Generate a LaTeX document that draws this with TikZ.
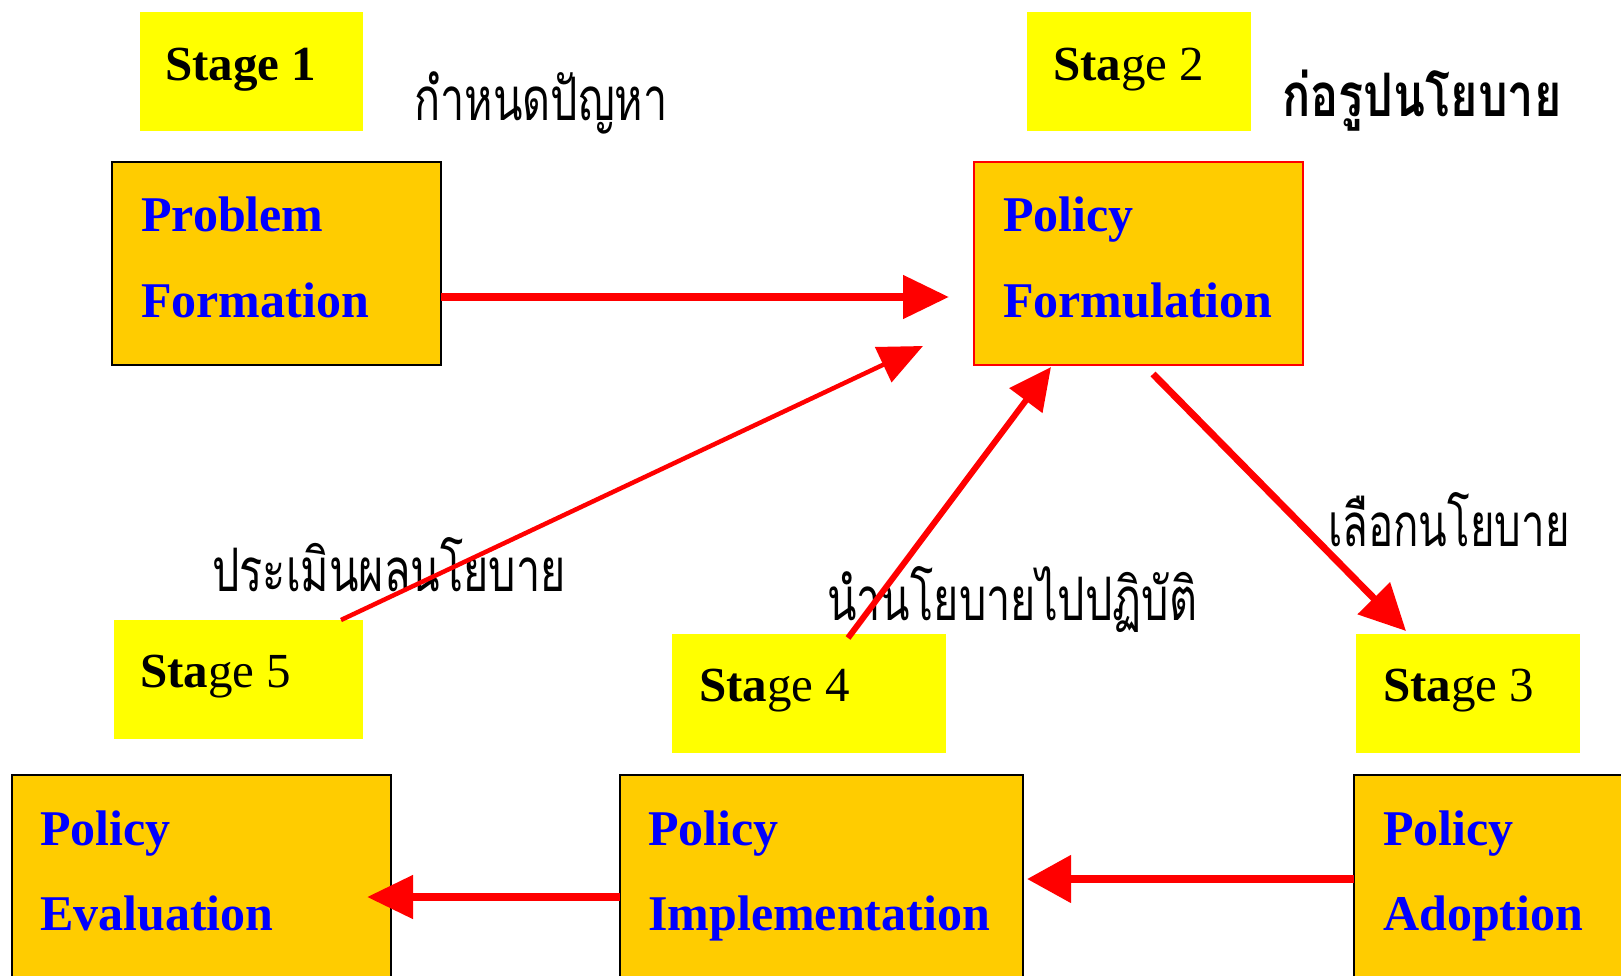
\documentclass[tikz,border=0pt]{standalone}
\usepackage{fontspec}
\setmainfont{Liberation Serif}
\newfontfamily\thaifont[Script=Thai]{Loma}
\usetikzlibrary{arrows.meta}
\definecolor{boxfill}{HTML}{FFCC00}
\definecolor{stagefill}{HTML}{FFFF00}
\definecolor{arrred}{HTML}{FF0000}
\definecolor{txtblue}{HTML}{0000FF}
\newcommand{\thaiscaled}[2]{\scalebox{#1}[1]{#2}}
\begin{document}
\begin{tikzpicture}[x=1pt,y=-1pt,
  stagebox/.style={fill=stagefill, draw=none, anchor=north west, inner sep=0pt, outer sep=0pt},
  policybox/.style={fill=boxfill, draw=black, line width=2pt, anchor=north west, inner sep=0pt, outer sep=0pt},
  stagetxt/.style={anchor=base west, inner sep=0pt, font=\fontsize{49}{53}\selectfont},
  boxtxt/.style={anchor=base west, inner sep=0pt, text=txtblue, font=\fontsize{50}{54}\selectfont\bfseries},
  thaitxt/.style={anchor=base west, inner sep=0pt, font=\fontsize{60}{66}\selectfont\thaifont},
  arr/.style={draw=arrred, -{Triangle[length=46pt,width=42pt]}, line cap=butt}
]
\clip (0,0) rectangle (1621,976);
\fill[white] (0,0) rectangle (1621,976);

% stage boxes
\node[stagebox, minimum width=223pt, minimum height=119pt] (s1) at (140,12) {};
\node[stagebox, minimum width=224pt, minimum height=119pt] (s2) at (1027,12) {};
\node[stagebox, minimum width=249pt, minimum height=119pt] (s5) at (114,620) {};
\node[stagebox, minimum width=274pt, minimum height=119pt] (s4) at (672,634) {};
\node[stagebox, minimum width=224pt, minimum height=119pt] (s3) at (1356,634) {};

\node[stagetxt] (s1t) at (165,81) {\bfseries Stage 1};
\node[stagetxt] (s2t) at (1053,81) {\textbf{Sta}ge 2};
\node[stagetxt] (s5t) at (140,687) {\textbf{Sta}ge 5};
\node[stagetxt] (s4t) at (699,701) {\textbf{Sta}ge 4};
\node[stagetxt] (s3t) at (1383,701) {\textbf{Sta}ge 3};

% policy boxes
\node[policybox, minimum width=329pt, minimum height=203pt] (prob) at (112,162) {};
\node[policybox, draw=arrred, line width=1.5pt, minimum width=329pt, minimum height=203pt] (form) at (974,162) {};
\node[policybox, minimum width=379pt, minimum height=225pt] (eval) at (12,775) {};
\node[policybox, minimum width=403pt, minimum height=225pt] (impl) at (620,775) {};
\node[policybox, minimum width=300pt, minimum height=225pt] (adopt) at (1354,775) {};

\node[boxtxt] (probt1) at (141,232) {Problem};
\node[boxtxt] (probt2) at (141,317) {Formation};
\node[boxtxt] (formt1) at (1003,232) {Policy};
\node[boxtxt] (formt2) at (1003,317) {Formulation};
\node[boxtxt] (evalt1) at (40,845) {Policy};
\node[boxtxt] (evalt2) at (40,930) {Evaluation};
\node[boxtxt] (implt1) at (648,845) {Policy};
\node[boxtxt] (implt2) at (648,930) {Implementation};
\node[boxtxt] (adoptt1) at (1383,845) {Policy};
\node[boxtxt] (adoptt2) at (1383,930) {Adoption};

% Thai labels
\node[thaitxt] (th1) at (414,121) {\thaiscaled{0.72}{กำหนดปัญหา}};
\node[thaitxt, font=\fontsize{60}{66}\selectfont\thaifont\bfseries] (th2) at (1282,117) {\thaiscaled{0.78}{ก่อรูปนโยบาย}};
\node[thaitxt] (th3) at (1328,546) {\thaiscaled{0.70}{เลือกนโยบาย}};
\node[thaitxt] (th5) at (212,591) {\thaiscaled{0.72}{ประเมินผลนโยบาย}};
\node[thaitxt] (th4) at (827,620) {\thaiscaled{0.72}{นำนโยบายไปปฏิบัติ}};

% connector ends
\coordinate (e1) at (949,297);
\coordinate (e5) at (923,346);
\coordinate (e4) at (1051,367);
\coordinate (b3) at (1153,374);
\coordinate (eadopt) at (1027,879);
\coordinate (eimpl) at (367,897);

\draw[arr, line width=8pt] ([yshift=-33.5pt]prob.east) -- (e1);
\draw[arr, line width=4.5pt, -{Triangle[length=44pt,width=38pt]}] ([xshift=102.5pt]s5.north) -- (e5);
\draw[arr, line width=6pt, -{Triangle[length=42pt,width=40pt]}] ([xshift=39pt,yshift=-4pt]s4.north) -- (e4);
\draw[arr, line width=7pt, -{Triangle[length=46pt,width=44pt]}] (b3) -- ([xshift=-62pt,yshift=3pt]s3.north);
\draw[arr, line width=8pt, -{Triangle[length=44pt,width=46pt]}] ([yshift=8.5pt]adopt.west) -- (eadopt);
\draw[arr, line width=8pt, -{Triangle[length=46pt,width=42pt]}] ([yshift=-9.5pt]impl.west) -- (eimpl);
\end{tikzpicture}
\end{document}
